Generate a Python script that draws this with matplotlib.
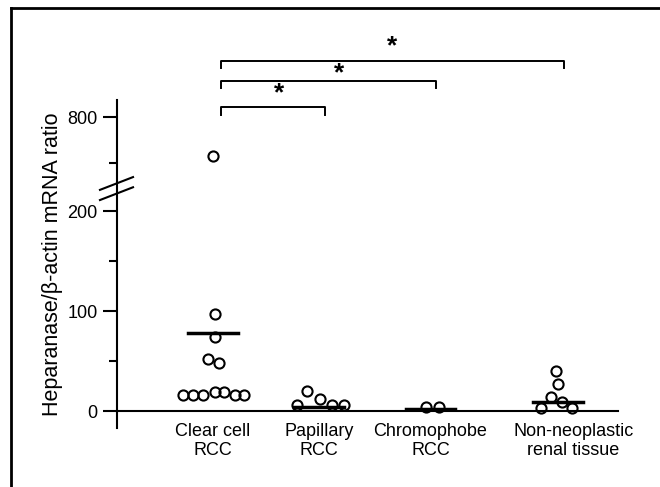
import numpy as np
import matplotlib.pyplot as plt
from matplotlib.transforms import ScaledTranslation
from matplotlib.ticker import FixedLocator

plt.rcParams['font.family'] = ['Liberation Sans', 'DejaVu Sans']

# groups and their x positions
groups = ['Clear cell\nRCC', 'Papillary\nRCC', 'Chromophobe\nRCC', 'Non-neoplastic\nrenal tissue']
xpos = [1.0, 1.92, 2.89, 4.0]

# ratio values, with small horizontal offsets (beeswarm)
clear_vals = [630, 97, 74, 52, 48, 16, 16, 16, 19.5, 19.5, 16, 16]
clear_off = [0, 2, 2, -5, 6, -30, -20, -10, 2, 11, 22, 31]
pap_vals = [6.5, 20.5, 11.7, 6.5, 6.5]
pap_off = [-22, -12, 1, 13, 25]
chromo_vals = [4, 4]
chromo_off = [-4, 9]
normal_vals = [40, 27, 14, 9, 3, 3]
normal_off = [-2, 0, -7, 4, -17, 14]

# horizontal bars (group means)
means = [78, 4, 2, 9]

# significance brackets: (from group, to group)
pairs = [(0, 1), (0, 2), (0, 3)]

# broken y axis: lower part linear, upper part compressed
B, U, K = 225.0, 500.0, 0.23

def fwd(y):
    y = np.asarray(y, dtype=float)
    return np.where(y <= B, y, B + (y - U) * K)

def inv(t):
    t = np.asarray(t, dtype=float)
    return np.where(t <= B, t, U + (t - B) / K)

fig = plt.figure(figsize=(6.6, 4.87), dpi=100)
ax = fig.add_axes([117/660, 59/487, 501/660, 328/487])
ax.set_yscale('function', functions=(fwd, inv))
ax.set_ylim(-17, 874)
ax.set_xlim(0.165, 4.52)

px = 1 / 115.0  # one pixel in x data units
all_vals = [clear_vals, pap_vals, chromo_vals, normal_vals]
all_off = [clear_off, pap_off, chromo_off, normal_off]
for i in range(4):
    x = xpos[i] + np.array(all_off[i]) * px
    ax.plot(x, all_vals[i], 'o', ms=7.3, mfc='none', mec='black', mew=1.5, zorder=3)
    ax.plot([xpos[i] - 0.215, xpos[i] + 0.215], [means[i], means[i]], color='black', lw=2.5, zorder=2)

for s in ['top', 'right']:
    ax.spines[s].set_visible(False)
ax.spines['bottom'].set_position(('data', 0))
ax.spines['left'].set_linewidth(1.5)
ax.spines['bottom'].set_linewidth(1.5)

ax.yaxis.set_major_locator(FixedLocator([0, 100, 200, 800]))
ax.yaxis.set_minor_locator(FixedLocator([50, 150, 600]))
ax.tick_params(axis='y', which='major', length=10, width=1.5, labelsize=13, pad=4)
ax.tick_params(axis='y', which='minor', length=5.5, width=1.5)
ax.set_xticks(xpos)
ax.set_xticklabels(groups)
ax.tick_params(axis='x', length=0, labelsize=13, pad=8.5)
lbls = ax.get_xticklabels()
lbls[3].set_transform(lbls[3].get_transform() + ScaledTranslation(0.15, 0, fig.dpi_scale_trans))
ax.set_ylabel('Heparanase/\u03b2-actin mRNA ratio', fontsize=15.5, labelpad=3)

# break marks on the y axis
tr = ax.transAxes
for y0 in [0.726, 0.695]:
    ax.plot([-0.034, 0.032], [y0, y0 + 0.039], color='black', lw=1.5, transform=tr, clip_on=False)

# brackets and stars above the plot
btr = ax.get_xaxis_transform()
levels = [(0.979, 0.954, 1.021), (1.058, 1.037, 1.082), (1.119, 1.098, 1.165)]
star_shift = [0.05, 0.09, 0.0]
for (a, b), (h, leg, sy), sh in zip(pairs, levels, star_shift):
    x1 = xpos[a] + 0.07
    x2 = xpos[b] + 0.05
    ax.plot([x1, x1, x2, x2], [leg, h, h, leg], color='black', lw=1.4,
            transform=btr, clip_on=False)
    ax.text((x1 + x2) / 2 + sh, sy, '*', transform=btr, ha='center', va='center',
            fontsize=19, fontweight='bold')

# frame of the original figure (top and left edges)
fig.add_artist(plt.Line2D([11/660, 1], [1 - 8/487, 1 - 8/487], color='black', lw=2, transform=fig.transFigure))
fig.add_artist(plt.Line2D([11/660, 11/660], [0, 1 - 8/487], color='black', lw=2, transform=fig.transFigure))

fig.savefig('out.png', dpi=100)
